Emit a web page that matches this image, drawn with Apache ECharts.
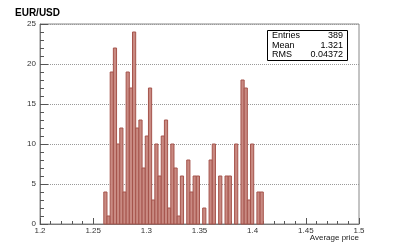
<!DOCTYPE html>
<html>
<head>
<meta charset="utf-8">
<script src="https://cdn.jsdelivr.net/npm/echarts@6/dist/echarts.min.js"></script>
<style>
html,body{margin:0;padding:0;background:#fff;}
#chart{width:399px;height:249px;}
</style>
</head>
<body>
<div id="chart"></div>
<script>
// Histogram: 100 bins between 1.2 and 1.5; counts
const histMin = 1.2;
const histMax = 1.5;
const binWidth = 0.003;
const firstBin = 20; // index of first listed bin
const binCounts = [4, 1, 19, 22, 10, 12, 4, 19, 17, 24,
                   12, 13, 7, 11, 17, 3, 10, 6, 11, 13,
                   2, 10, 7, 1, 6, 0, 8, 4, 6, 6,
                   0, 2, 0, 8, 10, 0, 6, 0, 6, 6,
                   0, 10, 0, 18, 17, 3, 10, 0, 4, 4];
const xTicks = [1.2, 1.25, 1.3, 1.35, 1.4, 1.45, 1.5];
const yTicks = [0, 5, 10, 15, 20, 25];
const statLabels = ['Entries', 'Mean', 'RMS'];
const statValues = ['389', '1.321', '0.04372'];
const titleText = 'EUR/USD';
const xAxisTitle = 'Average price';

const data = binCounts.map((c, i) => {
  const lo = histMin + (firstBin + i) * binWidth;
  return [lo, lo + binWidth, c];
});

const chart = echarts.init(document.getElementById('chart'), null, {renderer: 'canvas'});
const FONT = 'Liberation Sans';
const axisGrey = '#7a7a7a';

const graphics = [];
graphics.push({type: 'rect', left: 267, top: 30, shape: {width: 80, height: 30},
  style: {fill: '#fff', stroke: '#000', lineWidth: 1}, z: 100});
statLabels.forEach((lab, i) => {
  graphics.push({type: 'text', x: 272, y: 35.5 + i * 9.7, z: 101,
    style: {text: lab, font: '9px "Liberation Sans"', fill: '#000', textVerticalAlign: 'middle'}});
  graphics.push({type: 'text', x: 343, y: 35.5 + i * 9.7, z: 101,
    style: {text: statValues[i], font: '9px "Liberation Sans"', fill: '#000', textAlign: 'right', textVerticalAlign: 'middle'}});
});
graphics.push({type: 'text', x: 359, y: 238, z: 101,
  style: {text: xAxisTitle, font: '8px "Liberation Sans"', fill: '#222', textAlign: 'right', textVerticalAlign: 'middle'}});

chart.setOption({
  animation: false,
  backgroundColor: '#fff',
  title: {text: titleText, left: 10, top: 3,
    textStyle: {fontFamily: FONT, fontWeight: 'bold', fontSize: 10, color: '#000'}},
  grid: {left: 40, right: 40, top: 24, bottom: 25, containLabel: false, outerBoundsMode: 'none',
    show: true, borderColor: '#888', borderWidth: 1, backgroundColor: 'transparent'},
  xAxis: {
    type: 'value', min: histMin, max: histMax, interval: 0.05,
    axisLine: {lineStyle: {color: axisGrey, width: 1}},
    axisTick: {inside: true, length: 6, lineStyle: {color: '#555'}},
    minorTick: {show: true, splitNumber: 5, length: 3, lineStyle: {color: '#555'}},
    splitLine: {show: false},
    axisLabel: {fontFamily: FONT, fontSize: 8, color: '#333', margin: 3,
      formatter: v => xTicks.some(t => Math.abs(t - v) < 1e-9) ? String(+v.toFixed(2)) : '',
      showMinLabel: true, showMaxLabel: true}
  },
  yAxis: {
    type: 'value', min: 0, max: 25, interval: 5,
    axisLine: {show: true, lineStyle: {color: axisGrey, width: 1}},
    axisTick: {show: true, inside: true, length: 8, lineStyle: {color: '#555'}},
    minorTick: {show: true, splitNumber: 5, length: 4, lineStyle: {color: '#555'}},
    splitLine: {show: true, lineStyle: {color: '#999', type: [1, 1], width: 1}},
    axisLabel: {fontFamily: FONT, fontSize: 8, color: '#333', margin: 4,
      formatter: v => yTicks.includes(v) ? String(v) : ''}
  },
  series: [{
    type: 'custom',
    data: data,
    encode: {x: [0, 1], y: 2},
    renderItem: function (params, api) {
      const p0 = api.coord([api.value(0), api.value(2)]);
      const p1 = api.coord([api.value(1), 0]);
      const h = p1[1] - p0[1];
      if (h <= 0) return null;
      return {type: 'rect', shape: {x: p0[0], y: p0[1], width: p1[0] - p0[0], height: h},
        style: {fill: '#c98a82', stroke: '#a5544c', lineWidth: 1}};
    },
    z: 2
  }],
  graphic: graphics
});
</script>
</body>
</html>
